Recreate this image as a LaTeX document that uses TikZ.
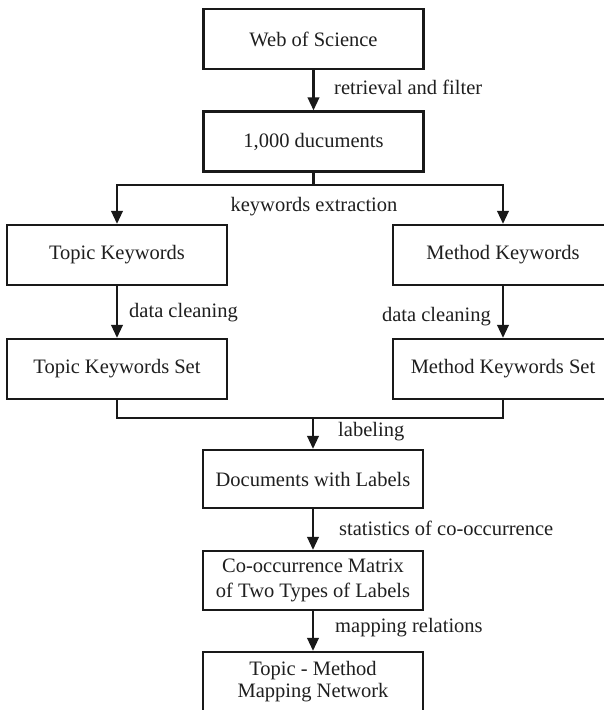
\documentclass[tikz,border=0pt]{standalone}
\usepackage{fontspec}
\setmainfont{Liberation Serif}
\usetikzlibrary{arrows.meta}
\begin{document}
\begin{tikzpicture}[x=1pt,y=-1pt,
  font=\fontsize{20.5}{24}\selectfont,
  stepbox/.style={draw=black!90, line width=2.3pt, minimum width=220pt, minimum height=60pt,
    inner sep=0pt, align=center, text=black!88},
  flow/.style={draw=black!90, line width=2.3pt, -{Triangle[length=13pt,width=11.5pt]}},
  link/.style={draw=black!90, line width=2.3pt},
  note/.style={inner sep=0pt, text=black!88}]
\useasboundingbox (0,0) rectangle (604,710);
\clip (0,0) rectangle (604,710);
\fill[white] (0,0) rectangle (604,710);

% boxes
\node[stepbox] (wos)   at (313.5,39)  {Web of Science};
\node[stepbox] (docs)  at (313.5,141.5) {1,000 ducuments};
\node[stepbox] (tk)    at (117,255)   {Topic Keywords};
\node[stepbox] (mk)    at (503,255)   {Method Keywords};
\node[stepbox] (tks)   at (117,369)   {Topic Keywords Set};
\node[stepbox] (mks)   at (503,369)   {Method Keywords Set};
\node[stepbox, minimum height=58pt] (dwl) at (313,479) {Documents with Labels};
\node[stepbox, minimum height=59pt] (com) at (313,580.5) {Co-occurrence Matrix\\[1pt]of Two Types of Labels};
\node[stepbox, font=\fontsize{20.5}{22}\selectfont] (net) at (313,682) {Topic - Method\\Mapping Network};

% junction points
\coordinate (split) at (313.5,185);
\coordinate (merge) at (313,418);

% connectors
\draw[flow] (wos) -- (docs);
\draw[link] (docs.south) -- (split);
\draw[flow] (split) -| (tk.north);
\draw[flow] (split) -| (mk.north);
\draw[flow] (tk) -- (tks);
\draw[flow] (mk) -- (mks);
\draw[link] (tks.south) |- (merge);
\draw[link] (mks.south) |- (merge);
\draw[flow] (merge) -- (dwl.north);
\draw[flow] (dwl) -- (com);
\draw[flow] (com) -- (net);

% connector labels
\node[note, anchor=west] (l1) at (334,87)  {retrieval and filter};
\node[note]              (l2) at (314,207) {keywords extraction};
\node[note, anchor=west] (l3) at (129,313) {data cleaning};
\node[note, anchor=east] (l4) at (491,317) {data cleaning};
\node[note, anchor=west] (l5) at (338,432) {labeling};
\node[note, anchor=west] (l6) at (339,528) {statistics of co-occurrence};
\node[note, anchor=west] (l7) at (335,628) {mapping relations};
\end{tikzpicture}
\end{document}
